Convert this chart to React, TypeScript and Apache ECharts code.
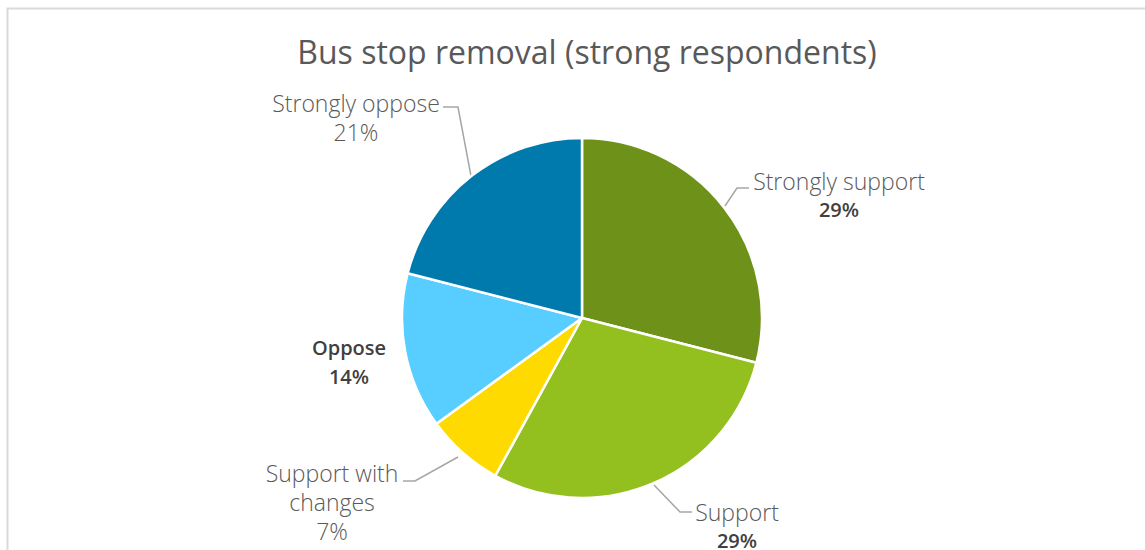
import React, { useEffect, useRef } from "react";
import * as echarts from "echarts";

const titleText = "Bus stop removal (strong respondents)";
const categories = ["Strongly support", "Support", "Support with\nchanges", "Oppose", "Strongly oppose"];
const values = [29, 29, 7, 14, 21];
const colors = ["#6E911A", "#93C01F", "#FFDA00", "#57CEFF", "#007AAD"];
const boldName = [false, false, false, true, false];
const boldValue = [true, true, false, true, false];

// label placement (styling/layout)
const labelPos: { x: number; y: number; line: number[][] | null }[] = [
  { x: 839, y: 195, line: [[725, 206], [737, 188], [749, 188]] },
  { x: 737, y: 526, line: [[654, 485], [680, 512], [692, 512]] },
  { x: 332, y: 502, line: [[458, 457], [415, 481], [403, 481]] },
  { x: 349, y: 362, line: null },
  { x: 356, y: 117, line: [[471, 176], [458, 107], [443, 107]] },
];

export default function App() {
  const ref = useRef<HTMLDivElement>(null);
  useEffect(() => {
    if (!ref.current) return;
    const chart = echarts.init(ref.current, undefined, { renderer: "svg" });
    const data = categories.map((name, i) => ({
      name,
      value: values[i],
      itemStyle: { color: colors[i] },
      label: {
        formatter: `{${boldName[i] ? "nb" : "n"}|{b}}\n{${boldValue[i] ? "vb" : "v"}|{c}%}`,
      },
      labelLine: { show: labelPos[i].line !== null },
    }));
    chart.setOption({
      animation: false,
      backgroundColor: "#ffffff",
      title: {
        text: titleText,
        left: 582,
        textAlign: "center",
        top: 30,
        textStyle: {
          fontFamily: "Open Sans",
          fontSize: 32,
          fontWeight: "normal",
          color: "#595959",
        },
      },
      graphic: [
        {
          type: "rect",
          shape: { x: 7.5, y: 8.5, width: 1300, height: 700 },
          style: { fill: "none", stroke: "#d9d9d9", lineWidth: 2 },
          silent: true,
        },
      ],
      series: [
        {
          type: "pie",
          center: [582, 318],
          radius: 180,
          startAngle: 90,
          clockwise: true,
          itemStyle: { borderColor: "#ffffff", borderWidth: 2.5 },
          label: {
            show: true,
            position: "outside",
            align: "center",
            lineHeight: 29,
            rich: {
              n: { fontFamily: "Open Sans", fontSize: 23, fontWeight: 300, color: "#595959", lineHeight: 29, align: "center" },
              nb: { fontFamily: "Open Sans", fontSize: 20, fontWeight: 600, color: "#404040", lineHeight: 29, align: "center" },
              v: { fontFamily: "Open Sans", fontSize: 23, fontWeight: 300, color: "#595959", lineHeight: 29, align: "center" },
              vb: { fontFamily: "Open Sans", fontSize: 20, fontWeight: 600, color: "#404040", lineHeight: 29, align: "center" },
            },
          },
          labelLine: {
            show: true,
            lineStyle: { color: "#a6a6a6", width: 1.5 },
          },
          labelLayout: (params: any) => {
            const p = labelPos[params.dataIndex];
            const out: any = { x: p.x, y: p.y, align: "center", verticalAlign: "middle" };
            if (p.line) out.labelLinePoints = p.line;
            return out;
          },
          data,
        },
      ],
    });
    return () => chart.dispose();
  }, []);
  return (
    <div
      ref={ref}
      style={{ position: "absolute", left: 0, top: 0, width: 1145, height: 550 }}
    />
  );
}
